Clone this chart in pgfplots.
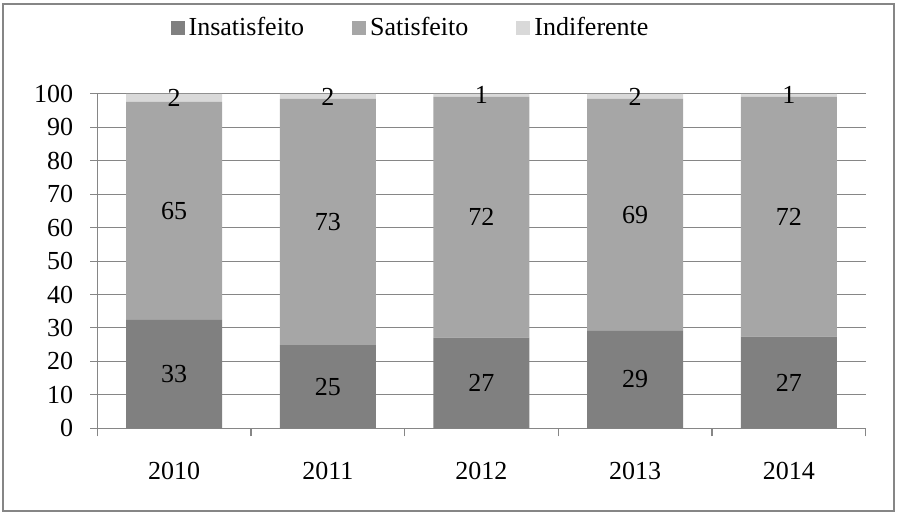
\documentclass[border=0pt]{standalone}
\usepackage{fontspec}
\setmainfont{Liberation Serif}
\usepackage{pgfplots}
\pgfplotsset{compat=1.18}

\definecolor{insat}{RGB}{128,128,128}
\definecolor{sat}{RGB}{166,166,166}
\definecolor{indif}{RGB}{217,217,217}
\definecolor{gridc}{RGB}{134,134,134}

\begin{document}
\fontsize{13}{15}\selectfont
\begin{tikzpicture}
\path (-48.65pt,-43.35pt) rectangle (400.85pt,214.15pt);
\begin{axis}[
    scale only axis,
    width=384.2pt,
    height=167.2pt,
    ybar stacked,
    bar width=48pt,
    xmin=-0.5, xmax=4.5,
    ymin=0, ymax=100,
    xtick={0,...,4},
    xticklabels={2010,2011,2012,2013,2014},
    minor xtick={-0.5,0.5,...,4.5},
    ytick={0,10,...,100},
    ymajorgrids,
    grid style={gridc, line width=0.5pt},
    axis lines*=left,
    axis line style={gridc, line width=0.6pt},
    tick align=outside,
    major tick length=3.5pt,
    minor tick length=4pt,
    major x tick style={draw=none},
    minor x tick style={gridc, line width=0.6pt},
    major y tick style={gridc, line width=0.5pt},
    xticklabel style={yshift=-9pt},
    yticklabel style={xshift=-4pt},
    /pgf/number format/assume math mode=true,
    legend columns=3,
    legend style={draw=none, at={(rel axis cs:0.409,1.197)}, anchor=center,
        /tikz/every even column/.append style={column sep=22pt}},
    legend image code/.code={\fill[#1] (0pt,-3.5pt) rectangle (7pt,3.5pt);},
    point meta=explicit symbolic,
    nodes near coords,
    every node near coord/.append style={anchor=center, black},
  ]
  \addplot[fill=insat, draw=none] table[x=x, y=y, meta=label] {
    x y label
    0 32.4 33
    1 24.9 25
    2 27.1 27
    3 29.3 29
    4 27.4 27
  };
  \addlegendentry{Insatisfeito}
  \addplot[fill=sat, draw=none] table[x=x, y=y, meta=label] {
    x y label
    0 65.2 65
    1 73.6 73
    2 72.0 72
    3 69.2 69
    4 71.7 72
  };
  \addlegendentry{Satisfeito}
  \addplot[fill=indif, draw=none] table[x=x, y=y, meta=label] {
    x y label
    0 2.4 2
    1 1.5 2
    2 0.9 1
    3 1.5 2
    4 0.9 1
  };
  \addlegendentry{Indiferente}
\end{axis}
\draw[gridc, line width=0.75pt] (-47.2pt,-41.4pt) rectangle (398.4pt,212.2pt);
\end{tikzpicture}
\end{document}
